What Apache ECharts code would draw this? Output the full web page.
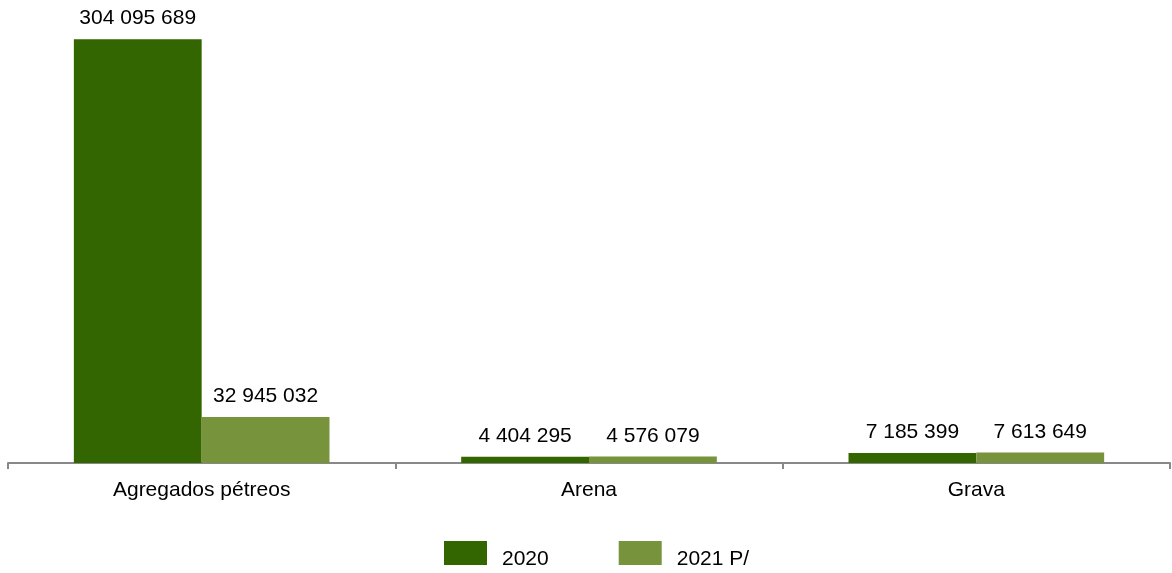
<!DOCTYPE html>
<html><head><meta charset="utf-8">
<script src="https://cdn.jsdelivr.net/npm/echarts@6/dist/echarts.min.js"></script>
<style>html,body{margin:0;padding:0;background:#fff}#c{width:1172px;height:573px}</style>
</head><body><div id="c"></div>
<script>
const categories = ['Agregados pétreos', 'Arena', 'Grava'];
const seriesNames = ['2020', '2021 P/'];
const values2020 = [304095689, 4404295, 7185399];
const values2021 = [32945032, 4576079, 7613649];
const colors = ['#336600', '#77943d'];

function fmt(v){ return String(v).replace(/\B(?=(\d{3})+(?!\d))/g, ' '); }

const chart = echarts.init(document.getElementById('c'));
const labelCfg = {show:true, position:'top', distance:10, color:'#000', fontFamily:'Liberation Sans, Arial', fontSize:21, formatter:p=>fmt(p.value)};
chart.setOption({
  animation:false,
  grid:{left:8, right:2, top:10, bottom:110, containLabel:false},
  legend:{left:439, top:536, itemWidth:43, itemHeight:24, itemGap:70, icon:'rect',
    formatter:'{a|{name}}',
    textStyle:{fontFamily:'Liberation Sans, Arial', fontSize:21, color:'#000',
      rich:{a:{fontFamily:'Liberation Sans, Arial', fontSize:21, color:'#000', padding:[12,0,0,10]}}},
    data:seriesNames},
  xAxis:{type:'category', data:categories,
    axisLine:{lineStyle:{color:'#888', width:2}},
    axisTick:{show:true, length:6, lineStyle:{color:'#888', width:2}},
    axisLabel:{color:'#000', fontFamily:'Liberation Sans, Arial', fontSize:21, margin:17}},
  yAxis:{type:'value', min:0, max:325000000, show:false, splitLine:{show:false}},
  series:[
    {name:seriesNames[0], type:'bar', data:values2020, barGap:'0%', barCategoryGap:'34%',
      itemStyle:{color:colors[0]}, label:labelCfg},
    {name:seriesNames[1], type:'bar', data:values2021,
      itemStyle:{color:colors[1]}, label:labelCfg}
  ]
});
</script></body></html>
